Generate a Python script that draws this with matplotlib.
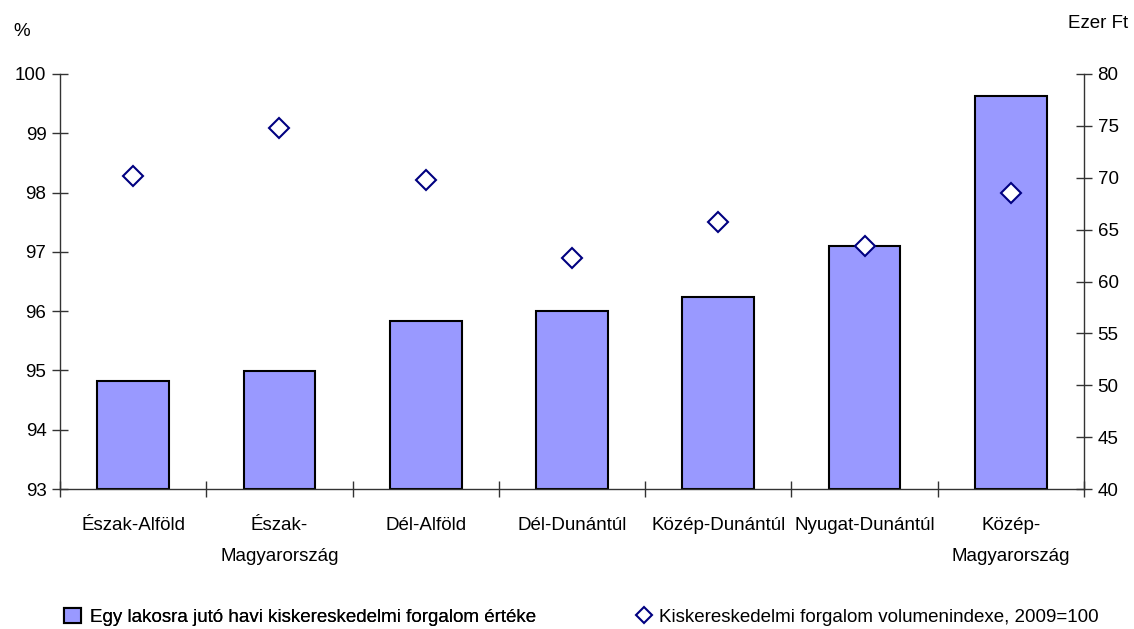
import matplotlib
matplotlib.use("Agg")
import matplotlib.pyplot as plt
from matplotlib.lines import Line2D
from matplotlib.patches import Patch
from matplotlib import font_manager
import numpy as np

categories = ["Észak-Alföld", "Észak-\nMagyarország", "Dél-Alföld", "Dél-Dunántúl",
              "Közép-Dunántúl", "Nyugat-Dunántúl", "Közép-\nMagyarország"]
forgalom_ezer_ft = [50.4, 51.4, 56.2, 57.2, 58.55, 63.4, 77.9]
volumenindex = [98.28, 99.09, 98.21, 96.89, 97.50, 97.10, 98.00]
left_ticks = [93, 94, 95, 96, 97, 98, 99, 100]
right_ticks = [40, 45, 50, 55, 60, 65, 70, 75, 80]
bar_label = "Egy lakosra jutó havi kiskereskedelmi forgalom értéke"
point_label = "Kiskereskedelmi forgalom volumenindexe, 2009=100"

names = {f.name for f in font_manager.fontManager.ttflist}
fam = ["Liberation Sans Narrow", "Liberation Sans", "DejaVu Sans"]
fam = [f for f in fam if f in names] or ["DejaVu Sans"]
plt.rcParams['font.family'] = fam
FS = 13.5

W, H = 1134, 629
fig = plt.figure(figsize=(W / 100, H / 100), dpi=100)
ax = fig.add_axes([60 / W, 1 - 489 / H, (1084 - 60) / W, (489 - 74) / H])
ax2 = ax.twinx()

x = np.arange(len(categories))
ax2.bar(x, np.array(forgalom_ezer_ft) - 40, bottom=40, width=0.49, color="#9999FF",
        edgecolor="black", linewidth=1.5, zorder=2)
ax2.set_ylim(40, 80)
ax.set_ylim(93, 100)
ax.set_xlim(-0.5, len(categories) - 0.5)

# points on left axis, drawn above bars
ax.set_zorder(ax2.get_zorder() + 1)
ax.patch.set_visible(False)
ax.plot(x, volumenindex, linestyle="none", marker="D", markersize=10.5,
        markerfacecolor="white", markeredgecolor="#000080", markeredgewidth=1.5,
        zorder=5, clip_on=False)

for a in (ax, ax2):
    a.spines['top'].set_visible(False)
ax.spines['right'].set_visible(False)
ax2.spines['left'].set_visible(False)
ax2.spines['bottom'].set_visible(False)
for s in ("left", "bottom"):
    ax.spines[s].set_color("#333333")
    ax.spines[s].set_linewidth(1.0)
ax2.spines['right'].set_color("#333333")
ax2.spines['right'].set_linewidth(1.0)

ax.set_yticks(left_ticks)
ax.set_yticklabels([str(v) for v in left_ticks], fontsize=FS, color="black")
ax.tick_params(axis="y", direction="inout", length=11.5, width=1.0, color="#333333", pad=4)
ax2.set_yticks(right_ticks)
ax2.set_yticklabels([str(v) for v in right_ticks], fontsize=FS, color="black")
ax2.tick_params(axis="y", direction="inout", length=11.5, width=1.0, color="#333333", pad=4)

ax.set_xticks(x)
ax.set_xticklabels(categories, fontsize=FS, color="black", linespacing=2.1)
ax.tick_params(axis="x", which="major", length=0, pad=20)
ax.set_xticks(np.arange(len(categories) + 1) - 0.5, minor=True)
ax.tick_params(axis="x", which="minor", direction="inout", length=11.5, width=1.0, color="#333333")

fig.text(22 / W, 1 - 32 / H, "%", fontsize=FS, ha="center", va="center", color="black")
fig.text(1098 / W, 1 - 23 / H, "Ezer Ft", fontsize=FS, ha="center", va="center", color="black")

h1 = Patch(facecolor="#9999FF", edgecolor="black", linewidth=1.5)
h2 = Line2D([], [], linestyle="none", marker="D", markersize=8, markerfacecolor="white",
            markeredgecolor="#000080", markeredgewidth=1.5)
leg1 = fig.legend([h1], [bar_label], loc="center left", bbox_to_anchor=(64 / W, 1 - 617 / H),
                  frameon=False, fontsize=FS, handlelength=0.9, handleheight=0.9,
                  handletextpad=0.5, borderpad=0, borderaxespad=0)
fig.add_artist(leg1)
leg2 = fig.legend([h2], [point_label], loc="center left", bbox_to_anchor=(635 / W, 1 - 617 / H),
                  frameon=False, fontsize=FS, handlelength=1.0, handletextpad=0.3,
                  borderpad=0, borderaxespad=0)

fig.savefig("out.png", dpi=100)
